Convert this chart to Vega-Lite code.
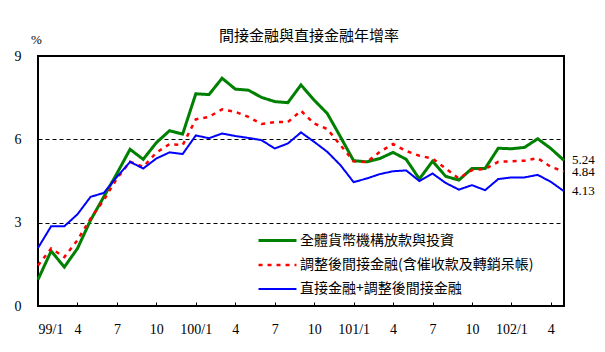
{
  "$schema": "https://vega.github.io/schema/vega-lite/v6.json",
  "width": 526,
  "height": 250,
  "autosize": {"type": "none"},
  "padding": {"left": 38, "top": 56, "right": 41, "bottom": 46},
  "background": "white",
  "title": {"text": "間接金融與直接金融年增率", "font": "Noto Sans CJK TC", "fontSize": 15, "fontWeight": "normal", "color": "black", "anchor": "middle", "dx": 8, "offset": -11},
  "config": {
    "view": {"stroke": "black", "strokeWidth": 2},
    "axis": {"labelFont": "Liberation Serif", "labelColor": "black", "domain": false}
  },
  "datasets": {
    "series": [
      {"s": "全體貨幣機構放款與投資", "vals": [0.95,1.98,1.40,2.07,3.09,3.93,4.77,5.64,5.28,5.88,6.31,6.19,7.64,7.61,8.20,7.81,7.77,7.51,7.36,7.32,7.96,7.41,6.93,6.09,5.23,5.19,5.31,5.53,5.28,4.57,5.21,4.67,4.53,4.95,4.95,5.68,5.66,5.71,6.02,5.67,5.24]},
      {"s": "調整後間接金融(含催收款及轉銷呆帳)", "vals": [1.46,2.07,1.76,2.37,3.15,3.81,4.59,5.19,5.01,5.52,5.83,5.79,6.72,6.81,7.08,6.99,6.81,6.55,6.62,6.62,7.03,6.57,6.37,5.79,5.21,5.18,5.55,5.83,5.58,5.41,5.31,4.95,4.59,4.89,4.93,5.19,5.21,5.23,5.32,5.01,4.84]},
      {"s": "直接金融+調整後間接金融", "vals": [2.09,2.87,2.87,3.30,3.93,4.07,4.65,5.19,4.95,5.31,5.53,5.47,6.14,6.04,6.21,6.12,6.05,5.97,5.67,5.85,6.25,5.91,5.55,5.07,4.46,4.59,4.75,4.85,4.88,4.50,4.77,4.43,4.19,4.35,4.17,4.57,4.63,4.63,4.72,4.47,4.13]}
    ]
  },
  "data": {"name": "series"},
  "transform": [
    {"flatten": ["vals"]},
    {"window": [{"op": "row_number", "as": "rn"}], "groupby": ["s"]},
    {"calculate": "datum.rn - 1", "as": "i"}
  ],
  "layer": [
    {
      "mark": {"type": "line", "strokeJoin": "miter"},
      "encoding": {
        "x": {"field": "i", "type": "quantitative", "scale": {"domain": [0, 40], "nice": false, "zero": false},
          "axis": {"title": null, "values": [0,3,6,9,12,15,18,21,24,27,30,33,36,39], "grid": false, "tickSize": -4, "tickColor": "black", "labelFontSize": 14, "labelPadding": 27, "labelBaseline": "middle",
            "labelExpr": "datum.value % 12 == 0 ? (99 + datum.value / 12) + '/1' : '' + ((datum.value % 12) + 1)"}},
        "y": {"field": "vals", "type": "quantitative", "scale": {"domain": [0, 9], "nice": false},
          "axis": {"values": [0,3,6,9], "ticks": false, "labelPadding": 17, "labelFontSize": 14, "labelBaseline": "middle", "grid": true, "gridColor": "black", "gridDash": [4,3], "gridOpacity": 1,
            "title": "%", "titleAngle": 0, "titleX": -2, "titleY": -17, "titleAlign": "center", "titleBaseline": "middle", "titleFont": "Liberation Serif", "titleFontSize": 13, "titleFontWeight": "normal", "titleColor": "black"}},
        "color": {"field": "s", "type": "nominal",
          "scale": {"domain": ["全體貨幣機構放款與投資", "調整後間接金融(含催收款及轉銷呆帳)", "直接金融+調整後間接金融"], "range": ["#008000", "#ff0000", "#0000ff"]},
          "legend": {"title": null, "orient": "none", "legendX": 225, "legendY": 170, "symbolType": "M-1.5,0H1.5", "symbolSize": 640, "symbolStrokeWidth": 2, "labelFont": "Noto Sans CJK TC", "labelFontSize": 14, "labelColor": "black", "labelOffset": 8, "rowPadding": 3, "padding": 0, "labelLimit": 400}},
        "strokeDash": {"field": "s", "type": "nominal",
          "scale": {"domain": ["全體貨幣機構放款與投資", "調整後間接金融(含催收款及轉銷呆帳)", "直接金融+調整後間接金融"], "range": [[1,0],[4,5],[1,0]]}, "legend": null},
        "strokeWidth": {"field": "s", "type": "nominal",
          "scale": {"domain": ["全體貨幣機構放款與投資", "調整後間接金融(含催收款及轉銷呆帳)", "直接金融+調整後間接金融"], "range": [3, 2, 1]}, "legend": null}
      }
    },
    {
      "transform": [{"filter": "datum.i == 40"}],
      "mark": {"type": "text", "align": "left", "baseline": "middle", "dx": 8, "font": "Liberation Serif", "fontSize": 13, "color": "black"},
      "encoding": {
        "x": {"field": "i", "type": "quantitative"},
        "y": {"field": "vals", "type": "quantitative"},
        "text": {"field": "vals", "type": "quantitative", "format": ".2f"}
      }
    }
  ]
}
